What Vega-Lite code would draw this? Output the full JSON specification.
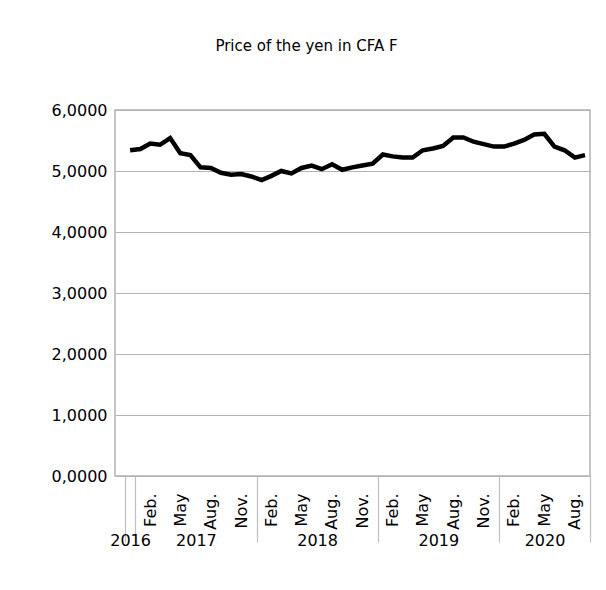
{
  "$schema": "https://vega.github.io/schema/vega-lite/v6.json",
  "autosize": {"type": "none"},
  "padding": {"left": 115, "top": 110, "right": 16, "bottom": 114},
  "width": 475,
  "height": 366,
  "background": "white",
  "title": {
    "text": "Price of the yen in CFA F",
    "font": "DejaVu Sans",
    "fontSize": 15,
    "fontWeight": "normal",
    "color": "black",
    "anchor": "middle",
    "baseline": "bottom",
    "dx": -46,
    "offset": 33
  },
  "config": {
    "view": {"stroke": "#b3b3b3", "strokeWidth": 1.5},
    "axis": {"labelFont": "DejaVu Sans", "labelFontSize": 16, "labelColor": "black"}
  },
  "data": {
    "values": [
      {"month": "2016-12", "price": 5.34},
      {"month": "2017-01", "price": 5.36},
      {"month": "2017-02", "price": 5.45},
      {"month": "2017-03", "price": 5.43},
      {"month": "2017-04", "price": 5.54},
      {"month": "2017-05", "price": 5.29},
      {"month": "2017-06", "price": 5.26},
      {"month": "2017-07", "price": 5.06},
      {"month": "2017-08", "price": 5.05},
      {"month": "2017-09", "price": 4.97},
      {"month": "2017-10", "price": 4.94},
      {"month": "2017-11", "price": 4.95},
      {"month": "2017-12", "price": 4.91},
      {"month": "2018-01", "price": 4.85},
      {"month": "2018-02", "price": 4.92},
      {"month": "2018-03", "price": 5.00},
      {"month": "2018-04", "price": 4.96},
      {"month": "2018-05", "price": 5.05},
      {"month": "2018-06", "price": 5.09},
      {"month": "2018-07", "price": 5.03},
      {"month": "2018-08", "price": 5.11},
      {"month": "2018-09", "price": 5.02},
      {"month": "2018-10", "price": 5.06},
      {"month": "2018-11", "price": 5.09},
      {"month": "2018-12", "price": 5.12},
      {"month": "2019-01", "price": 5.27},
      {"month": "2019-02", "price": 5.24},
      {"month": "2019-03", "price": 5.22},
      {"month": "2019-04", "price": 5.22},
      {"month": "2019-05", "price": 5.34},
      {"month": "2019-06", "price": 5.37},
      {"month": "2019-07", "price": 5.41},
      {"month": "2019-08", "price": 5.55},
      {"month": "2019-09", "price": 5.55},
      {"month": "2019-10", "price": 5.48},
      {"month": "2019-11", "price": 5.44},
      {"month": "2019-12", "price": 5.40},
      {"month": "2020-01", "price": 5.40},
      {"month": "2020-02", "price": 5.45},
      {"month": "2020-03", "price": 5.51},
      {"month": "2020-04", "price": 5.60},
      {"month": "2020-05", "price": 5.61},
      {"month": "2020-06", "price": 5.40},
      {"month": "2020-07", "price": 5.34},
      {"month": "2020-08", "price": 5.22},
      {"month": "2020-09", "price": 5.26}
    ]
  },
  "layer": [
    {
      "mark": {"type": "line", "color": "black", "strokeWidth": 4.5, "strokeJoin": "miter"},
      "encoding": {
        "x": {
          "field": "month",
          "type": "temporal",
          "timeUnit": "utcyearmonth",
          "bandPosition": 0.5,
          "scale": {"domain": [{"year": 2016, "month": 11, "date": 1, "utc": true}, {"year": 2020, "month": 10, "date": 1, "utc": true}]},
          "axis": {
            "orient": "bottom",
            "title": null,
            "values": [
              {"year": 2017, "month": 2, "date": 15, "utc": true},
              {"year": 2017, "month": 5, "date": 16, "utc": true},
              {"year": 2017, "month": 8, "date": 16, "utc": true},
              {"year": 2017, "month": 11, "date": 16, "utc": true},
              {"year": 2018, "month": 2, "date": 15, "utc": true},
              {"year": 2018, "month": 5, "date": 16, "utc": true},
              {"year": 2018, "month": 8, "date": 16, "utc": true},
              {"year": 2018, "month": 11, "date": 16, "utc": true},
              {"year": 2019, "month": 2, "date": 15, "utc": true},
              {"year": 2019, "month": 5, "date": 16, "utc": true},
              {"year": 2019, "month": 8, "date": 16, "utc": true},
              {"year": 2019, "month": 11, "date": 16, "utc": true},
              {"year": 2020, "month": 2, "date": 15, "utc": true},
              {"year": 2020, "month": 5, "date": 16, "utc": true},
              {"year": 2020, "month": 8, "date": 16, "utc": true}
            ],
            "labelExpr": "utcmonth(datum.value) == 4 ? 'May' : utcFormat(datum.value, '%b') + '.'",
            "labelAngle": 270,
            "labelPadding": 17,
            "labelOverlap": false,
            "labelFlush": false,
            "ticks": false,
            "domain": false,
            "grid": false
          }
        },
        "y": {
          "field": "price",
          "type": "quantitative",
          "scale": {"domain": [0, 6], "nice": false},
          "axis": {
            "title": null,
            "values": [0, 1, 2, 3, 4, 5, 6],
            "labelExpr": "replace(format(datum.value, '.4f'), '.', ',')",
            "ticks": false,
            "domain": false,
            "labelPadding": 8,
            "gridColor": "#b3b3b3",
            "gridWidth": 1.2
          }
        }
      }
    },
    {
      "mark": {"type": "line", "strokeOpacity": 0},
      "encoding": {
        "x": {
          "field": "month",
          "type": "temporal",
          "timeUnit": "utcyearmonth",
          "bandPosition": 0.5,
          "scale": {"domain": [{"year": 2016, "month": 11, "date": 1, "utc": true}, {"year": 2020, "month": 10, "date": 1, "utc": true}]},
          "axis": {
            "orient": "bottom",
            "title": null,
            "values": [
              {"year": 2016, "month": 12, "date": 1, "utc": true},
              {"year": 2017, "month": 1, "date": 1, "utc": true},
              {"year": 2018, "month": 1, "date": 1, "utc": true},
              {"year": 2019, "month": 1, "date": 1, "utc": true},
              {"year": 2020, "month": 1, "date": 1, "utc": true},
              {"year": 2020, "month": 10, "date": 1, "utc": true},
              {"year": 2016, "month": 12, "date": 16, "hours": 12, "utc": true},
              {"year": 2017, "month": 7, "date": 2, "hours": 12, "utc": true},
              {"year": 2018, "month": 7, "date": 2, "hours": 12, "utc": true},
              {"year": 2019, "month": 7, "date": 2, "hours": 12, "utc": true},
              {"year": 2020, "month": 5, "date": 17, "utc": true}
            ],
            "labelExpr": "utcdate(datum.value) == 1 ? '' : utcFormat(datum.value, '%Y')",
            "labelAngle": 0,
            "labelBaseline": "middle",
            "labelPadding": -2,
            "labelOverlap": false,
            "labelFlush": false,
            "ticks": true,
            "tickSize": 66,
            "tickColor": "#bfbfbf",
            "tickWidth": 1.2,
            "tickOpacity": {"condition": {"test": "utcdate(datum.value) == 1", "value": 1}, "value": 0},
            "domain": false,
            "grid": false
          }
        }
      }
    }
  ],
  "resolve": {"axis": {"x": "independent"}}
}
